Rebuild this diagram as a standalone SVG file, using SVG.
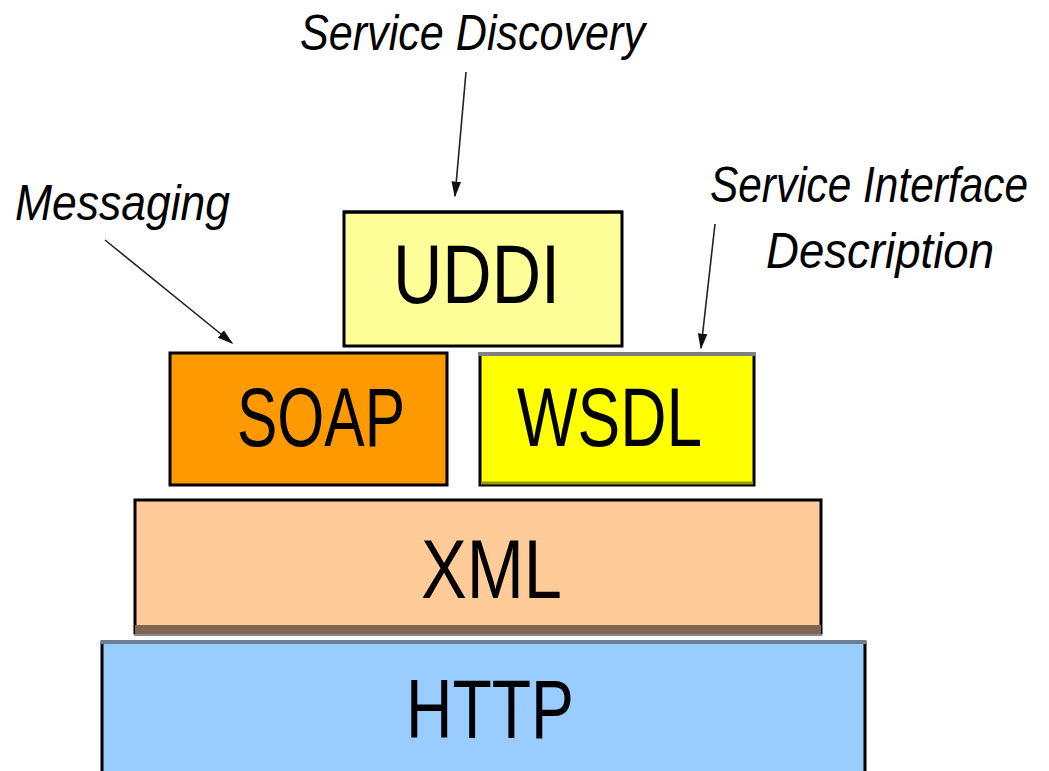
<svg xmlns="http://www.w3.org/2000/svg" width="1049" height="771" viewBox="0 0 1049 771">
  <style>
    .box { stroke: #000; stroke-width: 3; }
    .name { font-family: "Liberation Sans", Arial, sans-serif; font-size: 84px; fill: #000; text-anchor: start; }
    .note { font-family: "Liberation Sans", Arial, sans-serif; font-style: italic; font-size: 42px; fill: #000; }
    .link { stroke: #222; stroke-width: 1.6; fill: none; marker-end: url(#head); }
  </style>
  <defs>
    <marker id="head" viewBox="0 0 10 10" refX="9" refY="5" markerWidth="10" markerHeight="10" markerUnits="strokeWidth" orient="auto">
      <path d="M0,2 L10,5 L0,8 Z" fill="#111"/>
    </marker>
  </defs>
  <rect width="1049" height="771" fill="#fff"/>

  <g id="http">
    <rect class="box" x="102" y="642" width="763" height="140" fill="#99CCFF" stroke="#2f3e52"/>
    <line x1="101" y1="642" x2="866" y2="642" stroke="#6f7f93" stroke-width="4"/>
    <text class="name" x="406" y="738" textLength="168" lengthAdjust="spacingAndGlyphs">HTTP</text>
  </g>

  <g id="xml">
    <rect class="box" x="135" y="500" width="686" height="133" fill="#FFCC99"/>
    <rect x="135" y="625" width="686" height="10" fill="#806650"/>
    <line x1="134" y1="635" x2="822" y2="635" stroke="#888" stroke-width="2"/>
    <text class="name" x="421" y="598" textLength="141" lengthAdjust="spacingAndGlyphs">XML</text>
  </g>

  <g id="soap">
    <rect class="box" x="170" y="353" width="277" height="132" fill="#FF9900"/>
    <text class="name" x="237" y="446" textLength="168" lengthAdjust="spacingAndGlyphs">SOAP</text>
  </g>

  <g id="wsdl">
    <rect class="box" x="480" y="354" width="274" height="131" fill="#FFFF00"/>
    <line x1="478" y1="354" x2="756" y2="354" stroke="#808080" stroke-width="4"/>
    <line x1="481" y1="483" x2="753" y2="483" stroke="#999900" stroke-width="3"/>
    <text class="name" x="517" y="446" textLength="185" lengthAdjust="spacingAndGlyphs">WSDL</text>
  </g>

  <g id="uddi">
    <rect class="box" x="344" y="212" width="278" height="134" fill="#FFFF99" stroke="#7a7a5a"/>
    <line x1="343" y1="212" x2="623" y2="212" stroke="#000" stroke-width="3"/>
    <text class="name" x="393" y="303" textLength="167" lengthAdjust="spacingAndGlyphs">UDDI</text>
  </g>

  <!-- tall, narrow italic captions: vertical stretch plus fixed text lengths -->
  <g id="labels">
    <text class="note" transform="translate(300,50) scale(1,1.19)" textLength="345" lengthAdjust="spacingAndGlyphs">Service Discovery</text>
    <text class="note" transform="translate(15,220) scale(1,1.19)" textLength="215" lengthAdjust="spacingAndGlyphs">Messaging</text>
    <text class="note" transform="translate(710,202) scale(1,1.19)" textLength="318" lengthAdjust="spacingAndGlyphs">Service Interface</text>
    <text class="note" transform="translate(766,268) scale(1,1.19)" textLength="228" lengthAdjust="spacingAndGlyphs">Description</text>
  </g>

  <g id="connectors">
    <line class="link" x1="466" y1="72" x2="455" y2="196"/>
    <line class="link" x1="105" y1="240" x2="232" y2="343"/>
    <line class="link" x1="715" y1="224" x2="701" y2="348"/>
  </g>
</svg>
